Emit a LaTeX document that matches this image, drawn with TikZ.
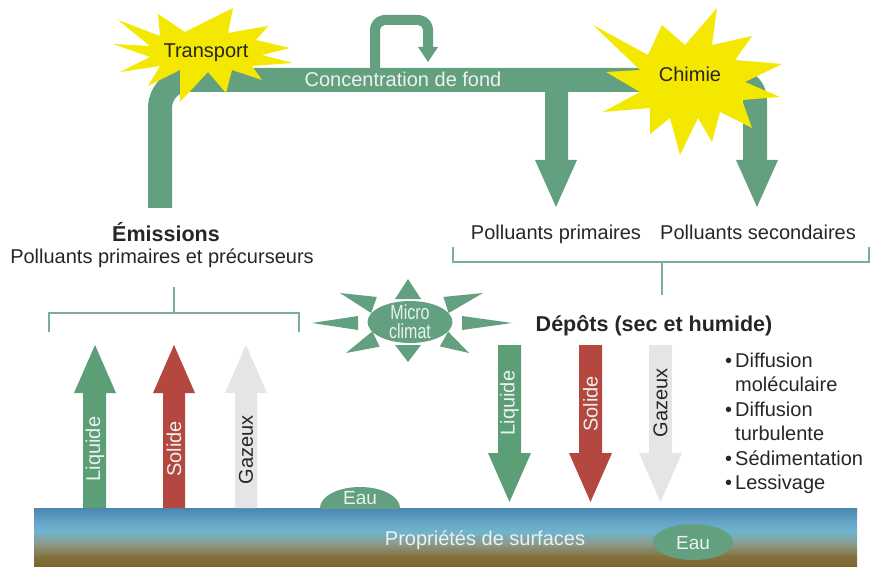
\documentclass[tikz,border=0pt]{standalone}
\usepackage{fontspec}
\usepackage{graphicx}
\setmainfont{Liberation Sans}
\usetikzlibrary{calc,shapes.geometric}
\definecolor{pipe}{RGB}{98,160,128}
\definecolor{agreen}{RGB}{92,158,118}
\definecolor{ared}{RGB}{180,72,64}
\definecolor{agrey}{RGB}{229,229,229}
\definecolor{brk}{RGB}{120,175,150}
\definecolor{txt}{RGB}{38,38,38}
\definecolor{sun}{RGB}{244,232,0}
\definecolor{wtxt}{RGB}{236,242,238}
\definecolor{sfA}{RGB}{122,100,42}
\definecolor{sfB}{RGB}{132,114,62}
\definecolor{sfC}{RGB}{140,155,140}
\definecolor{sfD}{RGB}{112,180,206}
\definecolor{sfF}{RGB}{100,163,198}
\definecolor{sfE}{RGB}{74,134,176}
\pgfdeclareverticalshading{surf}{100bp}{color(0bp)=(sfA); color(25bp)=(sfA); color(34bp)=(sfB); color(45bp)=(sfC); color(55bp)=(sfD); color(64bp)=(sfF); color(75bp)=(sfE); color(100bp)=(sfE)}
\tikzset{
  lbl/.style={font=\fontsize{20}{24}\selectfont, text=txt, inner sep=0pt},
  blbl/.style={font=\fontsize{21.5}{24}\selectfont\bfseries, text=txt, inner sep=0pt},
  wlbl/.style={font=\fontsize{20}{24}\selectfont, text=wtxt, inner sep=0pt},
  brack/.style={draw=brk, line width=1.5pt},
  ray/.style={fill=pipe},
}
\begin{document}
\begin{tikzpicture}[x=1pt,y=-1pt]
\useasboundingbox (0,0) rectangle (871,567);
% surface
\shade[shading=surf] (34,508) rectangle (857,567);
% main pipe
\fill[pipe] (148,208) -- (148,108) arc[start angle=180, end angle=270, radius=40]
  -- (735,68) arc[start angle=270, end angle=360, radius=32]
  -- (767,160) -- (778,160) -- (757,207) -- (736,160) -- (743,160)
  -- (743,100) arc[start angle=0, end angle=-90, radius=8]
  -- (188,92) arc[start angle=270, end angle=180, radius=16]
  -- (172,208) -- cycle;
% loop arrow
\fill[pipe] (370,70) -- (370,30) arc[start angle=180,end angle=270,radius=15]
  -- (418,15) arc[start angle=270,end angle=360,radius=15]
  -- (433,47) -- (438,47) -- (428,62) -- (418,47) -- (423,47)
  -- (423,30) arc[start angle=0,end angle=-90,radius=5]
  -- (385,25) arc[start angle=270,end angle=180,radius=5]
  -- (380,70) -- cycle;
% first down arrow
\fill[pipe] (545,90) -- (545,160) -- (535,160) -- (556,207) -- (577,160) -- (568,160) -- (568,90) -- cycle;
% stars
\fill[sun] (113,44) -- (150,46) -- (118,20) -- (160,36) -- (158,14) -- (185,32) -- (233,8) -- (228,33)
  -- (268,26) -- (256,40) -- (290,48) -- (262,55) -- (293,63) -- (252,66) -- (262,80) -- (232,70)
  -- (226,93) -- (208,72) -- (180,102) -- (180,70) -- (148,86) -- (160,66) -- (120,72) -- (150,57) -- cycle;
\fill[sun] (593,25) -- (648,55) -- (662,25) -- (685,45) -- (717,8) -- (712,45) -- (752,36) -- (735,60)
  -- (782,64) -- (745,82) -- (780,97) -- (742,100) -- (752,128) -- (720,112) -- (712,142) -- (698,118)
  -- (680,155) -- (670,118) -- (650,134) -- (650,108) -- (603,112) -- (640,92) -- (606,72) -- (640,70) -- cycle;
\node[lbl, anchor=base] (transport) at (206,58) {Transport};
\node[lbl, anchor=base] (chimie) at (690,82) {Chimie};
\node[wlbl, anchor=base] (fond) at (403,87) {Concentration de fond};
% emissions text
\node[blbl, anchor=base] (emis) at (166,241) {Émissions};
\node[lbl, anchor=base] (emis2) at (162,263) {Polluants primaires et précurseurs};
\node[lbl, anchor=base] (pprim) at (556,240) {Polluants primaires};
\node[lbl, anchor=base] (psec) at (758,240) {Polluants secondaires};
\node[blbl, anchor=base] (depots) at (654,331) {Dépôts (sec et humide)};
% brackets
\coordinate (lstem) at (174,287);
\coordinate (lmid) at (174,313);
\coordinate (rstem) at (662,295);
\coordinate (rmid) at (662,262);
\draw[brack] (49,332) -- (49,313) -- (299,313) -- (299,332);
\draw[brack] (lstem) -- (lmid);
\draw[brack] (453,247) -- (453,262) -- (869,262) -- (869,247);
\draw[brack] (rmid) -- (rstem);
% micro climat
\foreach \tx/\ty/\bx/\by/\hw in {408/279/408/299/13, 408/362/408/345/13, 312/323/358/323/7, 512/323/462/323/7,
  340/293/374/305/8.5, 483/293/446/305/8.5, 346/353/376/339/8.5, 469/353/444/339/8.5}{
  \fill[ray] (\tx,\ty) -- ($(\bx,\by)!\hw pt!90:(\tx,\ty)$) -- ($(\bx,\by)!\hw pt!-90:(\tx,\ty)$) -- cycle;
}
\node[ellipse, fill=pipe, minimum width=85pt, minimum height=42pt, inner sep=0pt] (micro) at (410,322) {};
\node[font=\fontsize{20.5}{19}\selectfont, text=wtxt, align=center, inner sep=0pt] (microtxt) at (410,322) {\scalebox{0.78}[1]{Micro}\\\scalebox{0.78}[1]{climat}};
% up arrows
\fill[agreen] (83,508) -- (83,393) -- (74,393) -- (95,345) -- (116,393) -- (106,393) -- (106,508) -- cycle;
\fill[ared] (163,508) -- (163,393) -- (153,393) -- (174,345) -- (195,393) -- (185,393) -- (185,508) -- cycle;
\fill[agrey] (235,508) -- (235,393) -- (225,393) -- (246,345) -- (267,393) -- (257,393) -- (257,508) -- cycle;
\node[wlbl, rotate=90] (liqU) at (95,449) {Liquide};
\node[wlbl, rotate=90] (solU) at (174,449) {Solide};
\node[lbl, rotate=90] (gazU) at (246,450) {Gazeux};
% down arrows
\fill[agreen] (498,345) -- (498,453) -- (488,453) -- (509.5,502) -- (531,453) -- (521,453) -- (521,345) -- cycle;
\fill[ared] (579,345) -- (579,453) -- (569,453) -- (590.5,502) -- (612,453) -- (602,453) -- (602,345) -- cycle;
\fill[agrey] (649,345) -- (649,453) -- (639,453) -- (660.5,502) -- (682,453) -- (672,453) -- (672,345) -- cycle;
\node[wlbl, rotate=90] (liqD) at (509.5,403) {Liquide};
\node[wlbl, rotate=90] (solD) at (590.5,404) {Solide};
\node[lbl, rotate=90] (gazD) at (660.5,403) {Gazeux};
% bullets
\node[lbl, anchor=base west] (b1) at (735,367) {\llap{•\hspace{3pt}}Diffusion};
\node[lbl, anchor=base west] (b1b) at (735,391.5) {moléculaire};
\node[lbl, anchor=base west] (b2) at (735,416) {\llap{•\hspace{3pt}}Diffusion};
\node[lbl, anchor=base west] (b2b) at (735,440.5) {turbulente};
\node[lbl, anchor=base west] (b3) at (735,465) {\llap{•\hspace{3pt}}Sédimentation};
\node[lbl, anchor=base west] (b4) at (735,489.5) {\llap{•\hspace{3pt}}Lessivage};
% water
\begin{scope}
\clip (0,0) rectangle (871,508);
\fill[pipe] (360,508) ellipse[x radius=40, y radius=21];
\end{scope}
\node[font=\fontsize{19}{22}\selectfont, text=wtxt, anchor=base] (eau1) at (360,504) {Eau};
\fill[pipe] (693,542) ellipse[x radius=40, y radius=18];
\node[font=\fontsize{19}{22}\selectfont, text=wtxt, anchor=base] (eau2) at (693,549) {Eau};
\node[font=\fontsize{20}{24}\selectfont, text=wtxt, anchor=base] (surf) at (485,545) {Propriétés de surfaces};
\end{tikzpicture}
\end{document}
